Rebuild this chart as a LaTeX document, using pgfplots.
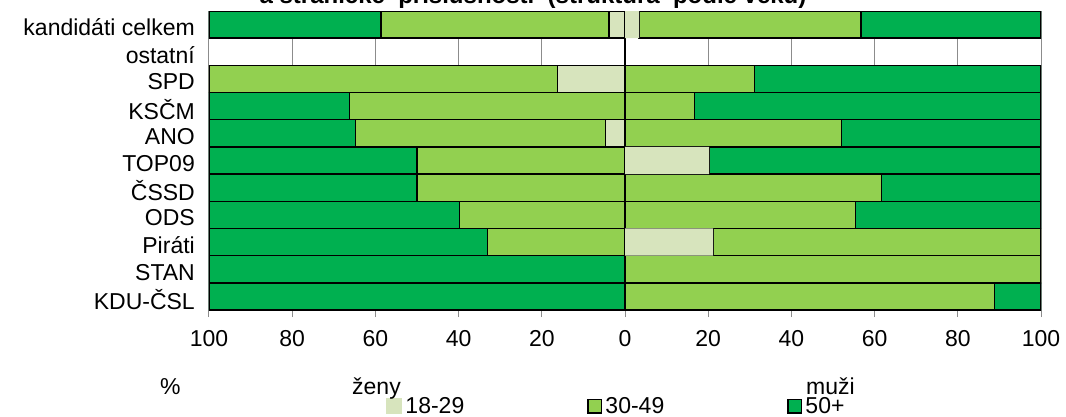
\documentclass[border=0pt]{standalone}
\usepackage{fontspec}
\setmainfont{Liberation Sans}
\usepackage{pgfplots}
\pgfplotsset{compat=1.18}
\usepackage{pgfplotstable}

\definecolor{cA}{HTML}{D7E4BD}
\definecolor{cB}{HTML}{92D050}
\definecolor{cC}{HTML}{00B050}
\definecolor{gridc}{HTML}{8C8C8C}
\newcommand{\fs}{\fontsize{23bp}{27bp}\selectfont}

% women (left side, negative)
\pgfplotstableread{
row a b c
0 -3.9 -54.8 -41.3
2 -16.2 -83.8 0
3 0 -66.2 -33.8
4 -4.7 -60.1 -35.2
5 0 -50 -50
6 0 -50 -50
7 0 -39.8 -60.2
8 0 -33.1 -66.9
9 0 0 -100
10 0 0 -100
}\women
% men (right side)
\pgfplotstableread{
row a b c
0 3.4 53.3 43.3
2 0 31.1 68.9
3 0 16.7 83.3
4 0 52.0 48.0
5 20.2 0 79.8
6 0 61.6 38.4
7 0 55.4 44.6
8 21.2 78.8 0
9 0 100 0
10 0 88.8 11.2
}\men

\pgfplotsset{
  common/.style={
    scale only axis, width=832bp, height=299bp,
    xmin=-100, xmax=100, ymin=-0.5, ymax=10.5, y dir=reverse,
    xbar stacked, bar width=27.18bp,
  },
  barst/.style={draw=black, line width=1.5bp},
}

\begin{document}
\begin{tikzpicture}
\begin{axis}[common,
  xtick={-100,-80,...,100},
  xticklabels={100,80,60,40,20,0,20,40,60,80,100},
  ytick={0,...,10},
  yticklabels={kandidáti celkem, ostatní, SPD, KSČM, ANO, TOP09, ČSSD, ODS, Piráti, STAN, KDU-ČSL},
  xmajorgrids, grid style={gridc, line width=1bp},
  axis line style={gridc, line width=1bp},
  tick align=outside, xtick pos=left, ytick style={draw=none},
  xtick style={gridc, line width=1bp}, major tick length=7bp,
  tick label style={font=\fs},
  xticklabel style={inner sep=0pt, anchor=base, yshift=-29bp},
  yticklabel style={inner sep=0pt, anchor=east, xshift=-7bp, yshift=-3bp},
  legend columns=3,
  legend style={at={(axis description cs:0.21274,-0.293)}, anchor=north west,
    draw=none, fill=none, inner sep=0pt, outer sep=0pt,
    /tikz/column sep=0pt,
    nodes={font=\fs, inner xsep=3bp, inner ysep=0pt, text width=179bp, align=left, anchor=base west}},
]
\addplot[barst, fill=cA, legend image code/.code={\fill[cA] (0bp,0bp) rectangle (15bp,15bp);}] table[x=a, y=row]{\women};
\addplot[barst, fill=cB, legend image code/.code={\draw[black, line width=1.6bp, fill=cB] (0.8bp,0.8bp) rectangle (14.2bp,14.2bp);}] table[x=b, y=row]{\women};
\addplot[barst, fill=cC, legend image code/.code={\draw[black, line width=1.6bp, fill=cC] (0.8bp,0.8bp) rectangle (14.2bp,14.2bp);}] table[x=c, y=row]{\women};
\legend{18-29,30-49,50+}
\end{axis}
\begin{axis}[common, hide axis]
\addplot[draw=none, fill=cA] table[x=a, y=row]{\men};
\addplot[barst, fill=cB] table[x=b, y=row]{\men};
\addplot[barst, fill=cC] table[x=c, y=row]{\men};
\draw[black, line width=2.2bp] (axis cs:0,-0.5) -- (axis cs:0,10.6);
\end{axis}
\node[font=\fs, inner sep=0pt, anchor=base west] at (-49bp,-84bp) {\%};
\node[font=\fs, inner sep=0pt, anchor=base west] at (143bp,-84bp) {ženy};
\node[font=\fs, inner sep=0pt, anchor=base west] at (597bp,-84bp) {muži};
\node[font=\bfseries\fontsize{24bp}{28bp}\selectfont, anchor=base] at (324bp,306bp) {a stranické\ \ příslušnosti\ \ (struktura\ \ podle věku)};
\pgfresetboundingbox
\useasboundingbox (-209bp,-107bp) rectangle (857bp,310bp);
\end{tikzpicture}
\end{document}
